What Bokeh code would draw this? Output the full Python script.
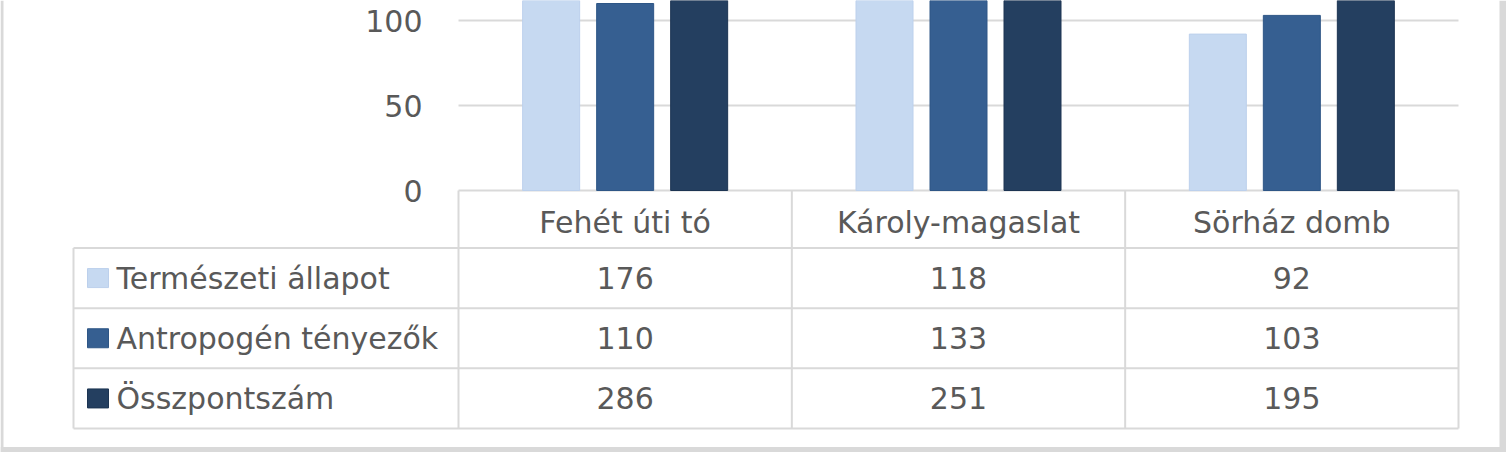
from bokeh.plotting import figure
from bokeh.models import Range1d
from bokeh.core.properties import value
from bokeh.embed import file_html
from bokeh.resources import INLINE

# ---------------- data ----------------
categories = ["Fehét úti tó", "Károly-magaslat", "Sörház domb"]
series_names = ["Természeti állapot", "Antropogén tényezők", "Összpontszám"]
termeszeti = [176, 118, 92]
antropogen = [110, 133, 103]
osszpont = [286, 251, 195]
y_ticks = [0, 50, 100]

# ---------------- style ----------------
colors = ["#C6D9F1", "#365F91", "#243F60"]
edge_colors = ["#BCD0EC", "#2E5686", "#1C3452"]
FONT = "DejaVu Sans"
FS = "30px"
TXT = "#595959"
GRID = "#D9D9D9"
FRAME = "#D9D9D9"

W, H = 1506, 452
PX_PER_UNIT = 1.7       # value units -> pixels
ZERO_Y = 190            # pixel row of value 0
CAT_PX = 1000.0 / 3.0   # width of one category column
PLOT_LEFT = 458         # pixel column where category 0 starts
ROW_PX = 60.17
ROW0_Y = 187.33         # pixel row where table row 0 starts

series_values = [termeszeti, antropogen, osszpont]
offsets = [-0.222, 0.0, 0.222]
bar_w = 0.171


def xu(px):
    return (px - PLOT_LEFT) / CAT_PX


def vu(py):
    return (ZERO_Y - py) / PX_PER_UNIT


def ru(py):
    return (py - ROW0_Y) / ROW_PX


p = figure(width=W, height=H,
           x_range=Range1d(xu(0), xu(W)),
           y_range=Range1d(vu(H), vu(0)),
           output_backend="svg", toolbar_location=None,
           x_axis_location=None, y_axis_location=None,
           min_border_left=0, min_border_right=0,
           min_border_top=0, min_border_bottom=0)
p.extra_y_ranges = {"rows": Range1d(ru(H), ru(0))}
p.outline_line_color = None
p.background_fill_color = "white"
p.border_fill_color = "white"
p.grid.visible = False

n_cat = len(categories)
n_ser = len(series_names)

# chart-area frame (grey border of the chart object)
p.quad(left=[xu(0), xu(1499), xu(0)], right=[xu(3), xu(W), xu(W)],
       bottom=[vu(H), vu(H), vu(H)], top=[vu(0), vu(0), vu(446.5)],
       fill_color=FRAME, line_color=None)

# gridlines
p.segment(x0=[0] * len(y_ticks), x1=[n_cat] * len(y_ticks), y0=y_ticks, y1=y_ticks,
          line_color=GRID, line_width=2)

# y tick labels
p.text(x=[xu(422)] * len(y_ticks), y=y_ticks, text=[str(t) for t in y_ticks],
       text_align="right", text_baseline="middle",
       text_font=value(FONT), text_font_size=value(FS), text_color=TXT)

# bars
for k, vals in enumerate(series_values):
    p.vbar(x=[i + 0.5 + offsets[k] for i in range(n_cat)], top=vals, bottom=0,
           width=bar_w, fill_color=colors[k], line_color=edge_colors[k], line_width=1)

# ---------------- data table ----------------
legend_left = xu(73)
hx0, hy0, hx1, hy1 = [], [], [], []
for r in range(1, n_ser + 2):
    hx0.append(legend_left); hx1.append(n_cat); hy0.append(r); hy1.append(r)
hx0.append(legend_left); hx1.append(legend_left); hy0.append(1); hy1.append(n_ser + 1)
for c in range(n_cat + 1):
    hx0.append(c); hx1.append(c); hy0.append(ru(ZERO_Y)); hy1.append(n_ser + 1)
p.segment(x0=hx0, y0=hy0, x1=hx1, y1=hy1, line_color=GRID, line_width=2,
          y_range_name="rows")

# category header
p.text(x=[i + 0.5 for i in range(n_cat)], y=[0.57] * n_cat, text=categories,
       text_align="center", text_baseline="middle", y_range_name="rows",
       text_font=value(FONT), text_font_size=value(FS), text_color=TXT)

# legend swatches + series names
p.rect(x=[xu(97.5)] * n_ser, y=[k + 1.5 for k in range(n_ser)],
       width=21, height=19, width_units="screen", height_units="screen",
       fill_color=colors, line_color=edge_colors, y_range_name="rows")
p.text(x=[xu(116)] * n_ser, y=[k + 1.5 for k in range(n_ser)], text=series_names,
       text_align="left", text_baseline="middle", y_range_name="rows",
       text_font=value(FONT), text_font_size=value(FS), text_color=TXT)

# values
for k, vals in enumerate(series_values):
    p.text(x=[i + 0.5 for i in range(n_cat)], y=[k + 1.5] * n_cat,
           text=[str(v) for v in vals],
           text_align="center", text_baseline="middle", y_range_name="rows",
           text_font=value(FONT), text_font_size=value(FS), text_color=TXT)

open("out.html", "w").write(file_html(p, INLINE))
